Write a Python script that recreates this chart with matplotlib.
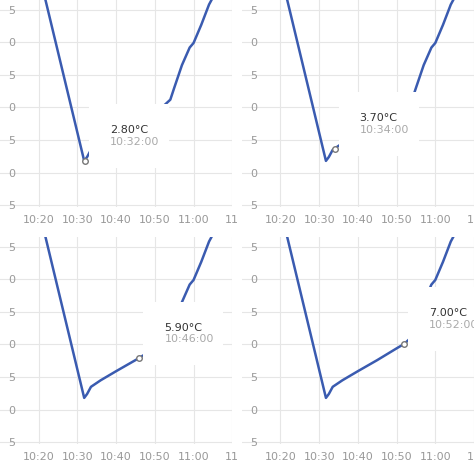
import matplotlib.pyplot as plt
from datetime import datetime, timedelta

# temperature trace, minutes after 10:00
minutes = [20, 21.75, 31.75, 32.5, 33.5, 36, 40, 45, 50, 52, 54, 55, 57, 59, 60, 62, 64, 66]
temps = [29, 26.5, 1.8, 2.4, 3.5, 4.5, 5.9, 7.6, 9.4, 10.1, 11.2, 13, 16.5, 19.2, 19.9, 22.7, 25.8, 28]

# tooltip for each panel: (minute, value shown, label, time label)
tips = [(32, 1.8, '2.80°C', '10:32:00'),
        (34, 3.7, '3.70°C', '10:34:00'),
        (46, 7.9, '5.90°C', '10:46:00'),
        (52, 10.1, '7.00°C', '10:52:00')]
y_ticks = [-5, 0, 5, 10, 15, 20, 25]
x_ticks = [20, 30, 40, 50, 60, 70]
x_labels = ['10:20', '10:30', '10:40', '10:50', '11:00', '11']

base = datetime(2020, 1, 1, 10, 0)
times = [base + timedelta(minutes=m) for m in minutes]

fig = plt.figure(figsize=(4.74, 4.74), dpi=100)
positions = [(0.0, 0.563), (0.51, 0.563), (0.0, 0.063), (0.51, 0.063)]
for (px, py), (tm, tv, tlab, ttime) in zip(positions, tips):
    ax = fig.add_axes([px, py, 0.49, 0.437])
    ax.plot(times, temps, color='#3a5bb0', lw=1.8, zorder=2)
    tt = base + timedelta(minutes=tm)
    ax.plot([tt], [tv], 'o', ms=4, mfc='white', mec='#777777', mew=1, zorder=3)
    ax.annotate(tlab + '\n', (tt, tv), xytext=(18, 10), textcoords='offset points',
                fontsize=8, color='#333333', va='bottom',
                bbox=dict(boxstyle='square,pad=1.9', fc='white', ec='none'), zorder=5)
    ax.annotate(ttime, (tt, tv), xytext=(18, 10), textcoords='offset points',
                fontsize=8, color='#aaaaaa', va='bottom', zorder=6)
    ax.set_xlim(base + timedelta(minutes=10), base + timedelta(minutes=69.5))
    ax.set_ylim(-5.3, 26.5)
    ax.set_yticks(y_ticks)
    ax.set_yticklabels([str(v)[-1] for v in y_ticks])
    ax.set_xticks([base + timedelta(minutes=m) for m in x_ticks])
    ax.set_xticklabels(x_labels)
    ax.tick_params(length=0, labelsize=8, colors='#999999', pad=6)
    ax.tick_params(axis='y', pad=-6)
    for lab in ax.get_yticklabels():
        lab.set_horizontalalignment('left')
    ax.grid(color='#e6e6e6', lw=0.8)
    for s in ax.spines.values():
        s.set_visible(False)
    ax.set_axisbelow(True)

fig.savefig('out.png', dpi=100)
